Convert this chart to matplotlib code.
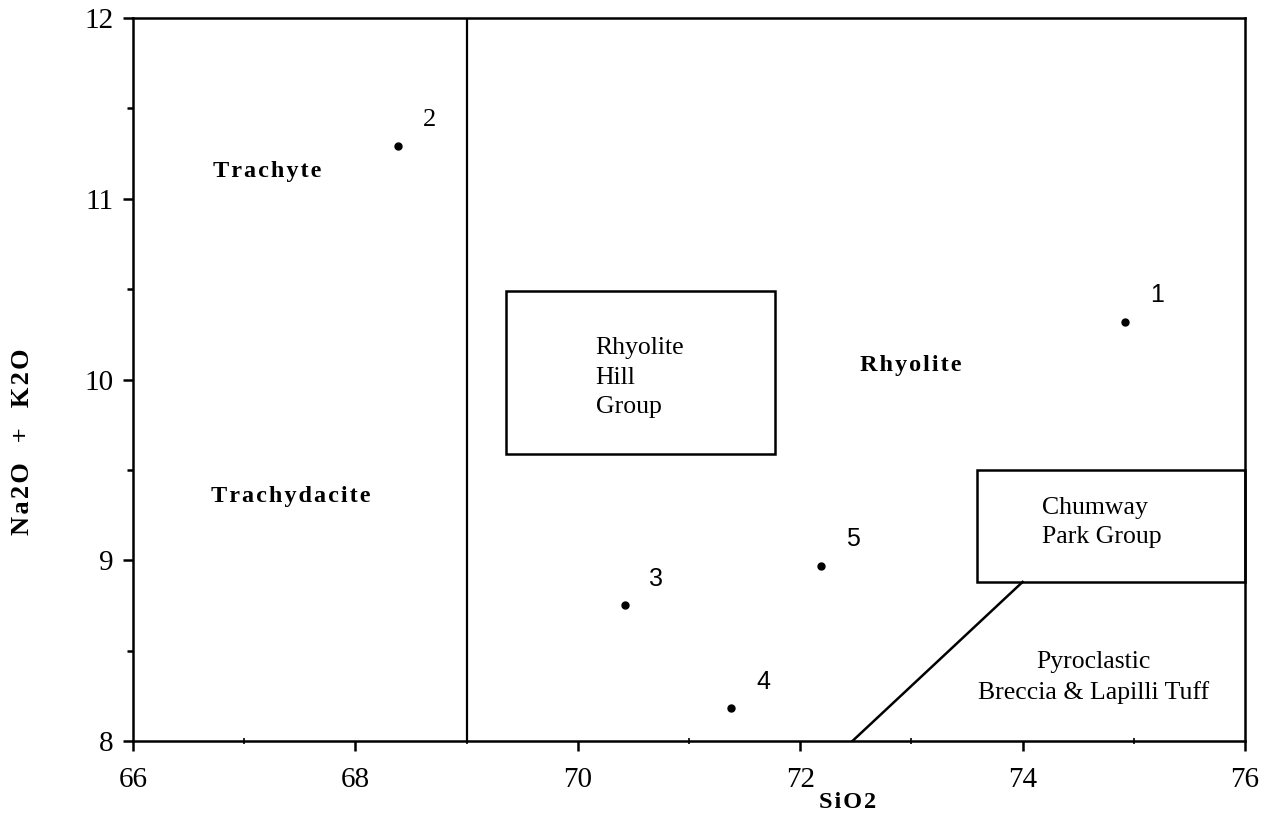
import matplotlib
matplotlib.use("Agg")
import matplotlib.pyplot as plt
from matplotlib.patches import Rectangle
from matplotlib.ticker import MultipleLocator

plt.rcParams["font.family"] = ["Liberation Serif", "DejaVu Serif"]

# Sample analyses (SiO2 vs total alkalis)
sample_ids = ["1", "2", "3", "4", "5"]
sio2 = [74.92, 68.38, 70.42, 71.38, 72.19]
alkali = [10.32, 11.29, 8.75, 8.18, 8.97]

# Field boundaries
rhyolite_boundary_x = 69.0
diag_x = [72.47, 74.0]
diag_y = [8.0, 8.88]

# Group boxes: (x0, y0, x1, y1)
rhyolite_hill_box = (69.35, 9.59, 71.77, 10.49)
chumway_box = (73.59, 8.88, 76.0, 9.50)

HS = "\u200a"


def spaced(s):
    return HS.join(s)


fig = plt.figure(figsize=(12.65, 8.24), dpi=100)
ax = fig.add_axes([133 / 1265, 1 - 741 / 824, 1112 / 1265, 723 / 824])

ax.set_xlim(66, 76)
ax.set_ylim(8, 12)

for s in ax.spines.values():
    s.set_linewidth(1.8)
    s.set_color("black")

ax.xaxis.set_major_locator(MultipleLocator(2))
ax.xaxis.set_minor_locator(MultipleLocator(1))
ax.yaxis.set_major_locator(MultipleLocator(1))
ax.yaxis.set_minor_locator(MultipleLocator(0.5))
ax.tick_params(axis="both", which="major", direction="out", length=7, width=1.8,
               labelsize=21)
ax.tick_params(axis="x", which="major", pad=12)
ax.tick_params(axis="y", which="major", pad=7)
ax.tick_params(axis="x", which="minor", direction="inout", length=5, width=1.2)
ax.tick_params(axis="y", which="minor", direction="out", length=4, width=1.8)

# Field boundary lines
ax.plot([rhyolite_boundary_x, rhyolite_boundary_x], [8, 12], color="black", lw=1.6)
ax.plot(diag_x, diag_y, color="black", lw=1.8)

# Group boxes
for (x0, y0, x1, y1) in (rhyolite_hill_box, chumway_box):
    ax.add_patch(Rectangle((x0, y0), x1 - x0, y1 - y0, fill=False,
                           edgecolor="black", lw=1.8, clip_on=False))

# Samples
ax.plot(sio2, alkali, "o", color="black", markersize=5, linestyle="none")
for sid, x, y in zip(sample_ids, sio2, alkali):
    if sid == "2":
        fam, size = ["Liberation Serif"], 19
    else:
        fam, size = ["Liberation Sans"], 18
    ax.annotate(sid, (x, y), xytext=(23, 19), textcoords="offset points",
                ha="center", va="center", fontsize=size, family=fam)

# Field names
bold_kw = dict(fontsize=17.5, fontweight="bold", ha="center", va="center",
               family=["Liberation Serif", "DejaVu Serif"])
ax.text(67.21, 11.15, spaced("Trachyte"), **bold_kw)
ax.text(67.42, 9.35, spaced("Trachydacite"), **bold_kw)
ax.text(72.99, 10.08, spaced("Rhyolite"), **bold_kw)

ax.text(70.16, 10.01, "Rhyolite\nHill\nGroup", fontsize=18.5, ha="left",
        va="center", linespacing=1.45)
ax.text(74.17, 9.21, "Chumway\nPark Group", fontsize=18.5, ha="left",
        va="center", linespacing=1.4)
ax.text(74.64, 8.35, "Pyroclastic\nBreccia & Lapilli Tuff", fontsize=18.5,
        ha="center", va="center", linespacing=1.45)

# Axis titles
fig.text(848 / 1265, 1 - 803 / 824, spaced("SiO2"), fontsize=17.5,
         fontweight="bold", ha="center", va="center",
         family=["Liberation Serif", "DejaVu Serif"])
fig.text(23 / 1265, 1 - 442 / 824, spaced("Na2O  +  K2O"), fontsize=19,
         fontweight="bold", ha="center", va="center", rotation=90,
         family=["Liberation Serif", "DejaVu Serif"])

fig.savefig("out.png", dpi=100, facecolor="white")
